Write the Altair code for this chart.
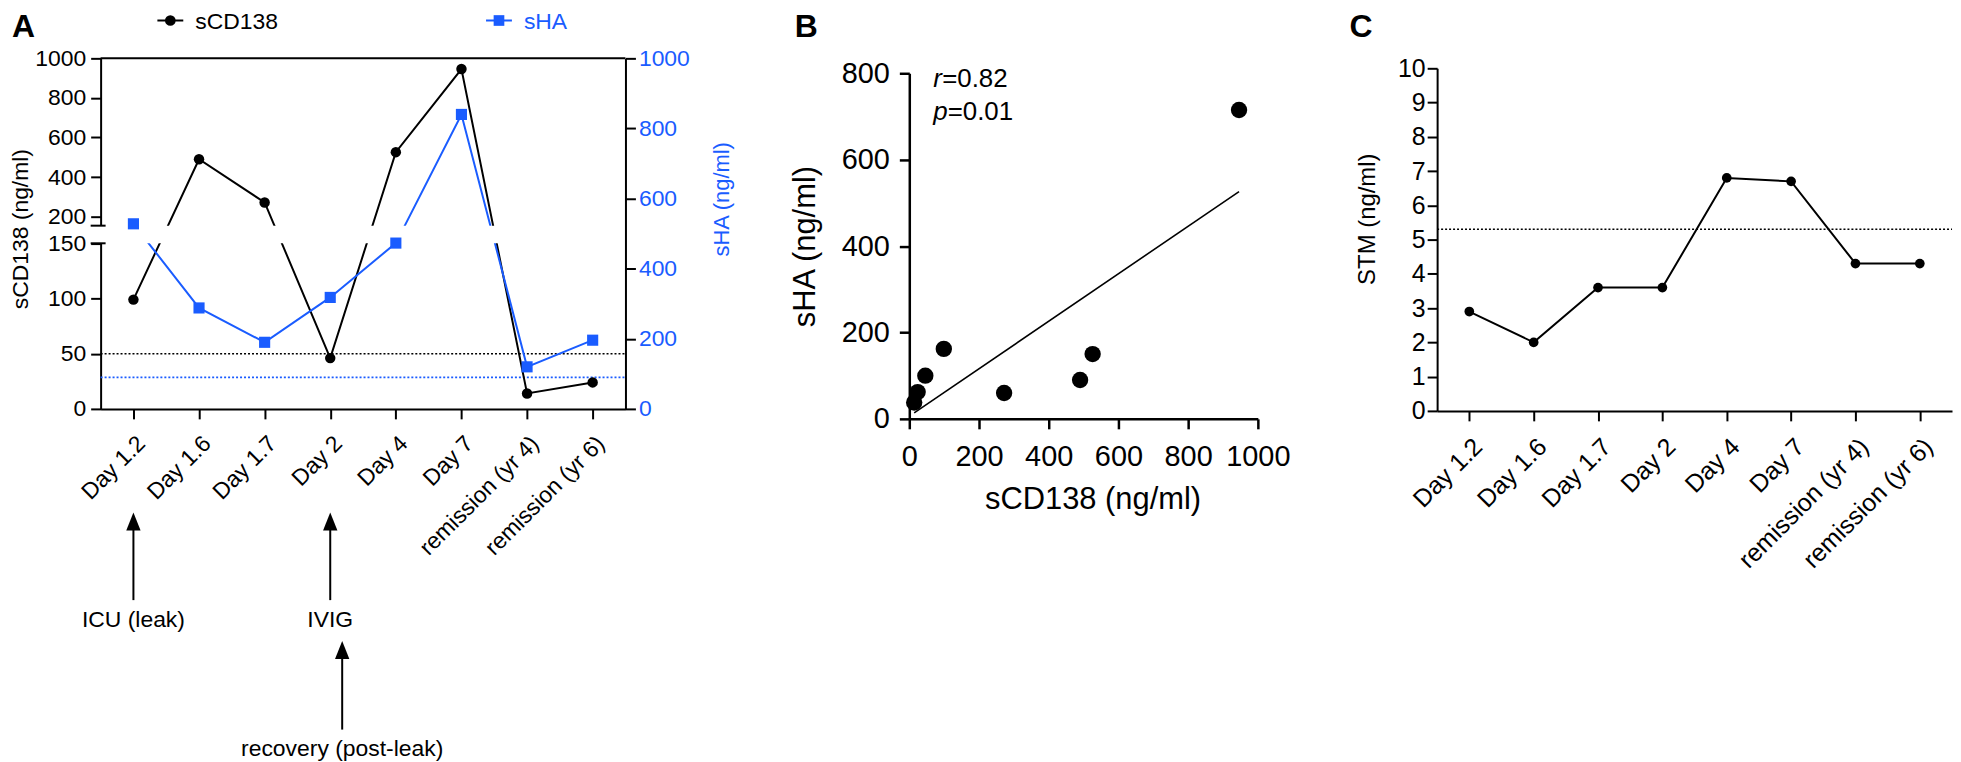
import altair as alt
import pandas as pd

# ---------------- data ----------------
cats = ["Day 1.2", "Day 1.6", "Day 1.7", "Day 2", "Day 4", "Day 7",
        "remission (yr 4)", "remission (yr 6)"]
scd138 = [99, 490, 272, 46, 526, 946, 14, 24]          # ng/ml (left axis, broken)
sha = [528, 288, 190, 318, 473, 840, 120, 196]          # ng/ml (right axis)
sha_scatter = [162, 90, 60, 100, 150, 715, 38, 62]      # panel B, paired with scd138
stm = [2.9, 2.0, 3.6, 3.6, 6.8, 6.7, 4.3, 4.3]          # panel C
scd138_ref = 50
sha_ref = 90
stm_ref = 5.3
r_value = "0.82"
p_value = "0.01"
ann_cats = ["Day 1.2", "Day 2", "Day 2"]
ann_labels = ["ICU (leak)", "IVIG", "recovery (post-leak)"]
legend_labels = ["sCD138", "sHA"]

# ---------------- style / layout ----------------
BLUE = "#1a5cff"
FONT = "Liberation Sans"
GAP = 180
W_A, H_A = 527, 352          # panel A plot area
W_A_VIEW = 632               # view incl. room right of the plot
W_B, H_B = 350, 347
B_TOP = 15                   # plot top offset below the shared top line
W_C, H_C = 517, 344
C_TOP = 10

# broken left axis of panel A -> shared display scale 0..1000 (right axis units)
LOWK = 472.4 / 150.0
D200 = 548.3
UPK = (1000.0 - D200) / 800.0
BREAK_LO = 150 * LOWK
BREAK_HI = 522.7


def to_disp(v):
    return v * LOWK if v <= 150 else D200 + (v - 200) * UPK


one = pd.DataFrame({"k": [0]})

# ================= panel A =================
dfA = pd.DataFrame({"cat": cats, "d138": [to_disp(v) for v in scd138], "sha": sha})
yscA = alt.Scale(domain=[0, 1000], nice=False, zero=True)
xaxisA = alt.Axis(title=None, labelAngle=-45, labelAlign="right", labelBaseline="top",
                  labelPadding=13, labelFontSize=23, tickSize=10, labelOverlap=False,
                  labelLimit=400)
xA = alt.X("cat:N", sort=cats,
           scale=alt.Scale(type="point", domain=cats, padding=0.5, range=[0, W_A]),
           axis=xaxisA)

left_vals = [0, 50, 100, 150, 200, 400, 600, 800, 1000]
left_axis = alt.Axis(orient="left", values=[to_disp(v) for v in left_vals],
                     labelExpr=("datum.value < 500 ? format(datum.value / %f, '.0f') : "
                                "format(200 + (datum.value - %f) / %f, '.0f')") % (LOWK, D200, UPK),
                     title="sCD138 (ng/ml)", titleFontSize=23, titleAngle=270,
                     titleX=-73, titleY=171, titleBaseline="alphabetic", titleAlign="center",
                     labelFontSize=23, tickSize=10, labelPadding=5, labelFlush=False,
                     labelOverlap=False)
right_axis = alt.Axis(orient="right", offset=W_A - W_A_VIEW,
                      values=[0, 200, 400, 600, 800, 1000], format="d",
                      title="sHA (ng/ml)", titleColor=BLUE, labelColor=BLUE,
                      titleFontSize=22, titleAngle=270, titleX=103, titleY=141,
                      titleBaseline="alphabetic", titleAlign="center",
                      labelFontSize=23, tickSize=10, labelPadding=3, labelFlush=False,
                      labelOverlap=False)

thr = pd.DataFrame({"d": [to_disp(scd138_ref), sha_ref], "c": ["black", BLUE]})
thr_layer = alt.Chart(thr).mark_rule(strokeDash=[2, 2], strokeWidth=1.6).encode(
    y=alt.Y("d:Q", scale=yscA, axis=None), x=alt.value(0), x2=alt.value(W_A),
    color=alt.Color("c:N", scale=None))

line138 = alt.Chart(dfA).mark_line(color="black", strokeWidth=2).encode(
    x=xA, y=alt.Y("d138:Q", scale=yscA, axis=left_axis))
lineSha = alt.Chart(dfA).mark_line(color=BLUE, strokeWidth=2).encode(
    x=xA, y=alt.Y("sha:Q", scale=yscA, axis=right_axis))

band = alt.Chart(pd.DataFrame({"lo": [BREAK_LO], "hi": [BREAK_HI]})).mark_rect(
    color="white", opacity=1).encode(
    y=alt.Y("lo:Q", scale=yscA, axis=None), y2="hi:Q",
    x=alt.value(-14), x2=alt.value(W_A - 1.5))
breaks = alt.Chart(pd.DataFrame({"d": [BREAK_LO, BREAK_HI]})).mark_rule(
    color="black", strokeWidth=2).encode(
    y=alt.Y("d:Q", scale=yscA, axis=None), x=alt.value(-10), x2=alt.value(5))

pts138 = alt.Chart(dfA).mark_point(filled=True, shape="circle", size=110,
                                   color="black", opacity=1).encode(
    x=xA, y=alt.Y("d138:Q", scale=yscA, axis=None))
ptsSha = alt.Chart(dfA).mark_point(filled=True, shape="square", size=125,
                                   color=BLUE, opacity=1).encode(
    x=xA, y=alt.Y("sha:Q", scale=yscA, axis=None))

frame = alt.Chart(one).mark_rule(color="black", strokeWidth=2).encode(
    x=alt.value(0), x2=alt.value(W_A), y=alt.value(0))

legend_layers = []
for label, col, shp, x0 in zip(legend_labels, ["black", BLUE], ["circle", "square"], [57, 387]):
    legend_layers.append(alt.Chart(one).mark_rule(color=col, strokeWidth=2).encode(
        x=alt.value(x0), x2=alt.value(x0 + 26), y=alt.value(-38)))
    legend_layers.append(alt.Chart(one).mark_point(filled=True, shape=shp, size=115,
                                                   color=col, opacity=1).encode(
        x=alt.value(x0 + 13), y=alt.value(-38)))
    legend_layers.append(alt.Chart(one).mark_text(text=label, color=col, fontSize=23,
                                                  align="left", baseline="alphabetic").encode(
        x=alt.value(x0 + 38), y=alt.value(-29)))

letterA = alt.Chart(one).mark_text(text="A", fontSize=32, fontWeight="bold",
                                   align="left", baseline="alphabetic").encode(
    x=alt.value(-89), y=alt.value(-21))

ARROW = "M0,-1L0.8,1L-0.8,1Z"
ann_layers = []
tiers = [(456, 474, 544, 571), (586, 602, 674, 701)]
for cat, lab, tier, xo in zip(ann_cats, ann_labels, [0, 0, 1], [0, 0, 12]):
    tip, base_, bottom, ty = tiers[tier]
    d = pd.DataFrame({"cat": [cat], "label": [lab]})
    ann_layers.append(alt.Chart(d).mark_rule(color="black", strokeWidth=2).encode(
        x=xA, xOffset=alt.value(xo), y=alt.value(base_ - 1), y2=alt.value(bottom)))
    ann_layers.append(alt.Chart(d).mark_point(shape=ARROW, filled=True, size=324,
                                              color="black", opacity=1).encode(
        x=xA, xOffset=alt.value(xo), y=alt.value((tip + base_) / 2)))
    ann_layers.append(alt.Chart(d).mark_text(fontSize=23, align="center",
                                             baseline="alphabetic", dx=xo).encode(
        x=xA, y=alt.value(ty), text="label:N"))

panelA = alt.layer(thr_layer, line138, lineSha, band, breaks, pts138, ptsSha, frame,
                   *legend_layers, letterA, *ann_layers).resolve_axis(
    y="independent").properties(width=W_A_VIEW, height=H_A)

# ================= panel B =================
HB_VIEW = B_TOP + H_B
dfB = pd.DataFrame({"x": scd138, "y": sha_scatter})
xB = alt.X("x:Q", scale=alt.Scale(domain=[0, 1000], nice=False),
           axis=alt.Axis(values=[0, 200, 400, 600, 800, 1000], format="d",
                         title="sCD138 (ng/ml)",
                         labelFontSize=29, tickSize=10, labelPadding=14, domainWidth=2.5,
                         tickWidth=2.5, titleFontSize=31, titleX=184, titleY=90,
                         titleBaseline="alphabetic", titleAlign="center",
                         labelFlush=False, labelOverlap=False))
yB = alt.Y("y:Q", scale=alt.Scale(domain=[0, 800], nice=False, range=[HB_VIEW, B_TOP]),
           axis=alt.Axis(values=[0, 200, 400, 600, 800], format="d", title="sHA (ng/ml)",
                         labelFontSize=29, tickSize=10, labelPadding=10, domainWidth=2.5,
                         tickWidth=2.5, titleFontSize=31, titleAngle=270, titleX=-95,
                         titleY=B_TOP + H_B / 2, titleBaseline="alphabetic",
                         titleAlign="center", labelFlush=False, labelOverlap=False))
regB = alt.Chart(dfB).transform_regression("x", "y").mark_line(
    color="black", strokeWidth=1.6).encode(x=xB, y=yB)
ptsB = alt.Chart(dfB).mark_circle(size=270, color="black", opacity=1).encode(x=xB, y=yB)

statsB = []
for sym, val, yy, dxv in [("r", r_value, 14, 9), ("p", p_value, 47, 14.5)]:
    statsB.append(alt.Chart(one).mark_text(text=sym, fontStyle="italic", fontSize=26,
                                           align="left", baseline="alphabetic").encode(
        x=alt.value(24), y=alt.value(B_TOP + yy)))
    statsB.append(alt.Chart(one).mark_text(text="=" + val, fontSize=26,
                                           align="left", baseline="alphabetic").encode(
        x=alt.value(24 + dxv), y=alt.value(B_TOP + yy)))
letterB = alt.Chart(one).mark_text(text="B", fontSize=32, fontWeight="bold",
                                   align="left", baseline="alphabetic").encode(
    x=alt.value(-115), y=alt.value(-21))
panelB = alt.layer(regB, ptsB, *statsB, letterB).properties(width=W_B, height=HB_VIEW)

# ================= panel C =================
HC_VIEW = C_TOP + H_C
dfC = pd.DataFrame({"cat": cats, "stm": stm})
yscC = alt.Scale(domain=[0, 10], nice=False, range=[HC_VIEW, C_TOP])
yaxisC = alt.Axis(values=list(range(0, 11)), title="STM (ng/ml)", labelFontSize=25,
                  tickSize=10, labelPadding=2, titleFontSize=24, titleAngle=270,
                  titleX=-63, titleY=C_TOP + 151, titleBaseline="alphabetic",
                  titleAlign="center", labelFlush=False, labelOverlap=False)
xC = alt.X("cat:N", sort=cats, scale=alt.Scale(type="point", domain=cats, padding=0.5),
           axis=alt.Axis(title=None, labelAngle=-45, labelAlign="right", labelBaseline="top",
                         labelPadding=13, labelFontSize=25, tickSize=10, labelOverlap=False,
                         labelLimit=400))
yC = alt.Y("stm:Q", scale=yscC, axis=yaxisC)
lineC = alt.Chart(dfC).mark_line(color="black", strokeWidth=2).encode(x=xC, y=yC)
ptsC = alt.Chart(dfC).mark_point(filled=True, shape="circle", size=95, color="black",
                                 opacity=1).encode(x=xC, y=yC)
refC = alt.Chart(pd.DataFrame({"stm": [stm_ref]})).mark_rule(
    color="black", strokeDash=[2, 2], strokeWidth=1.6).encode(
    y=yC, x=alt.value(0), x2=alt.value(W_C))
letterC = alt.Chart(one).mark_text(text="C", fontSize=32, fontWeight="bold",
                                   align="left", baseline="alphabetic").encode(
    x=alt.value(-88), y=alt.value(-21))
panelC = alt.layer(lineC, ptsC, refC, letterC).properties(width=W_C, height=HC_VIEW)

chart = alt.hconcat(
    panelA, panelB, panelC,
    spacing=GAP, bounds="flush",
    padding={"left": 2, "top": 2, "right": 0, "bottom": 0},
).configure(font=FONT).configure_view(stroke=None).configure_axis(
    domainColor="black", tickColor="black", labelColor="black", titleColor="black",
    grid=False, domainWidth=2, tickWidth=2, titleFontWeight="normal",
    labelFont=FONT, titleFont=FONT,
)

chart.save("out.html", embed_options={"renderer": "svg", "actions": False})
